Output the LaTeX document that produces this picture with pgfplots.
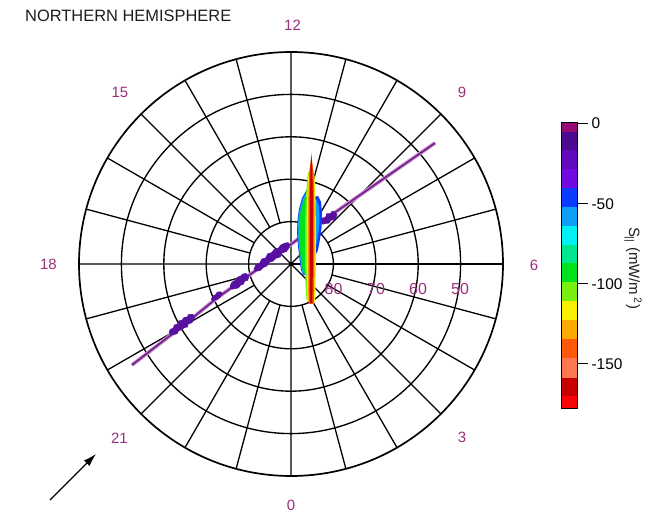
\documentclass[border=0pt]{standalone}
\usepackage{pgfplots}
\pgfplotsset{compat=1.18}
\usepgfplotslibrary{polar}
\usetikzlibrary{arrows.meta}
\usepackage{fontspec}
\setmainfont{Liberation Sans}

\definecolor{hourlab}{RGB}{155,45,125}
\definecolor{track}{RGB}{118,36,140}
\definecolor{trackhalo}{RGB}{205,150,215}
\definecolor{blob}{RGB}{88,16,160}
% discrete S_parallel palette, 0 (top) to -177.5 (bottom)
\definecolor{cA}{RGB}{150,10,120}
\definecolor{cB}{RGB}{75,10,145}
\definecolor{cC}{RGB}{95,10,190}
\definecolor{cD}{RGB}{112,10,225}
\definecolor{cE}{RGB}{10,60,255}
\definecolor{cF}{RGB}{15,160,245}
\definecolor{cG}{RGB}{0,240,245}
\definecolor{cH}{RGB}{0,230,140}
\definecolor{cI}{RGB}{0,225,30}
\definecolor{cJ}{RGB}{120,240,15}
\definecolor{cK}{RGB}{248,240,0}
\definecolor{cL}{RGB}{255,168,0}
\definecolor{cM}{RGB}{255,88,8}
\definecolor{cN}{RGB}{255,120,80}
\definecolor{cO}{RGB}{200,0,0}
\definecolor{cP}{RGB}{250,5,5}

\begin{document}
\begin{tikzpicture}
\useasboundingbox (0,0) rectangle (666bp,512bp);

% MLT / magnetic latitude dial (radius = 90 - latitude)
\begin{polaraxis}[
  at={(291bp,248bp)}, anchor=center,
  scale only axis, width=424bp, height=424bp,
  ymin=0, ymax=50,
  xtick={0,45,...,315}, ytick={10,20,30,40},
  xticklabels={}, yticklabels={},
  grid=major,
  major grid style={black,line width=1.35bp},
  axis line style={black,line width=1.7bp},
  major tick length=0pt,
  clip=false]
\pgfplotsinvokeforeach{15,30,60,75,105,120,150,165,195,210,240,255,285,300,330,345}{
  \addplot[black,line width=1.3bp] coordinates {(#1,10) (#1,50)};
}
\end{polaraxis}

% satellite track and Poynting flux, in dial units (1 unit = 1bp, centre at 0,0)
\begin{axis}[
  at={(291bp,248bp)}, anchor=center,
  scale only axis, width=424bp, height=424bp,
  xmin=-212, xmax=212, ymin=-212, ymax=212,
  axis lines=none, clip=false]

% track
\addplot[trackhalo,line width=3.8bp] coordinates {(-159,-101) (-111,-64) (-74,-34) (-36,-7) (-1,19) (36,46) (144,121)};
\addplot[track,line width=1.8bp] coordinates {(-159,-101) (-111,-64) (-74,-34) (-36,-7) (-1,19) (36,46) (144,121)};

% small downward flux along the dusk/night pass
\addplot[fill=blob,draw=blob,line width=0.6bp] coordinates {
 (-121.9,-68.8) (-120.8,-65.4) (-117.8,-64.4) (-116.6,-61.0) (-113.4,-60.3) (-112.2,-56.9)
 (-108.9,-56.3) (-107.2,-53.6) (-103.9,-53.0) (-102.1,-50.4) (-98.2,-50.5)
 (-96.4,-52.9) (-97.5,-56.3) (-99.3,-58.9) (-102.6,-59.6) (-103.7,-63.0) (-107.0,-63.6)
 (-109.1,-65.8) (-112.4,-66.5) (-113.8,-69.5) (-116.8,-70.5) (-120.1,-71.2)} -- cycle;
\addplot[fill=blob,draw=blob,line width=0.6bp] coordinates {
 (-79.6,-35.2) (-78.2,-32.2) (-75.5,-30.8) (-73.7,-28.1) (-70.1,-27.9)
 (-68.9,-29.5) (-70.4,-32.5) (-72.4,-34.7) (-75.4,-35.8) (-78.4,-36.8)} -- cycle;
\addplot[fill=blob,draw=blob,line width=0.6bp] coordinates {
 (-60.9,-22.8) (-59.8,-19.4) (-57.7,-17.2) (-54.7,-16.1) (-53.3,-13.1) (-50.3,-12.1)
 (-48.2,-9.9) (-44.6,-9.6) (-42.2,-12.8) (-43.3,-16.2) (-46.3,-17.2) (-47.8,-20.2)
 (-50.8,-21.3) (-52.5,-23.9) (-55.8,-24.5) (-59.1,-25.2)} -- cycle;
\addplot[fill=blob,draw=blob,line width=0.6bp] coordinates {
 (-36.9,-4.8) (-35.0,-0.8) (-31.2,0.9) (-29.3,4.9) (-25.2,6.1) (-23.3,10.2) (-19.2,11.4)
 (-16.6,14.6) (-12.6,15.9) (-10.0,19.1) (-6.2,20.8) (-2.9,21.4)
 (-1.1,19.0) (-2.3,15.6) (-4.8,12.4) (-8.9,11.2) (-10.8,7.1) (-14.9,5.9) (-17.8,3.0)
 (-21.8,1.8) (-24.1,-1.8) (-27.9,-3.5) (-30.7,-6.3) (-35.1,-7.2)} -- cycle;
\addplot[fill=blob,draw=blob,line width=0.6bp] coordinates {
 (30.2,42.2) (31.3,46.0) (34.6,46.4) (35.7,50.2) (39.3,50.2) (41.2,52.7) (44.3,51.8)
 (46.0,49.3) (45.1,46.9) (43.5,44.0) (39.9,44.0) (38.2,41.0) (34.9,40.6) (31.8,39.8)} -- cycle;

% intense flux near noon
\addplot[fill=cE,draw=none] coordinates {(16,75) (11,66) (8,55) (6.5,44) (6,32) (7,18) (8.5,5) (10,-6) (12,-11) (18,-11) (18,75)} -- cycle;
\addplot[fill=cF,draw=none] coordinates {(16.3,74) (11.6,65) (8.6,54) (7,43) (6.8,31) (7.8,17) (9.3,4) (10.8,-7) (12.5,-10.5) (18,-10.5) (18,74)} -- cycle;
\addplot[fill=cI,draw=none] coordinates {(16.7,73) (12.5,63) (9.5,52) (8,40) (7.8,28) (8.8,15) (10.3,3) (11.8,-7) (13,-9.5) (18,-9.5)} -- cycle;
\addplot[fill=cE,draw=none] coordinates {(23,67) (27,68) (30,62) (31,50) (30.5,36) (29,25) (27,14) (25,10) (23,10)} -- cycle;
\addplot[fill=cF,draw=none] coordinates {(23,64) (26,64) (28,57) (28.5,45) (27.5,32) (26,22) (24,16) (23,16)} -- cycle;
\addplot[fill=cJ,draw=none] coordinates {(17,92) (15,70) (14,40) (14,10) (14.5,-20) (15.5,-36) (18,-36) (18,92)} -- cycle;
\addplot[fill=cK,draw=none] coordinates {(20.3,104) (23.5,88) (24.5,65) (25,30) (24.8,-10) (24,-38) (16.5,-38) (15.8,-10) (15.8,30) (16.2,65) (17.3,88)} -- cycle;
\addplot[fill=cM,draw=none] coordinates {(20.3,108) (22.5,92) (23.2,68) (23.5,30) (23.3,-10) (22.8,-40) (17.6,-40) (17.3,-10) (17.3,30) (17.5,68) (18.3,92)} -- cycle;
\addplot[fill=cO,draw=none] coordinates {(20.3,111) (21.3,95) (21.8,70) (22,30) (21.8,-10) (21.3,-39) (19,-39) (18.8,-10) (18.8,30) (19,70) (19.4,95)} -- cycle;

% view direction
\addplot[black,line width=1.2bp,-{Latex[length=13bp,width=8bp]}] coordinates {(-241,-236) (-195,-190)};

% MLT labels
\begin{scope}[every node/.style={text=hourlab,font=\fontsize{15}{16}\selectfont}]
\node at (axis cs:1.5,238.5) {12};
\node at (axis cs:-171,171.5) {15};
\node at (axis cs:171,171.5) {9};
\node at (axis cs:-242.5,-0.5) {18};
\node at (axis cs:243,-1) {6};
\node at (axis cs:-171.5,-174) {21};
\node at (axis cs:171,-173) {3};
\node at (axis cs:0,-241) {0};
\end{scope}
% latitude labels
\begin{scope}[every node/.style={text=hourlab,font=\fontsize{16}{17}\selectfont}]
\node at (axis cs:42.5,-25) {80};
\node at (axis cs:85,-25) {70};
\node at (axis cs:127,-25) {60};
\node at (axis cs:169,-25) {50};
\end{scope}

\node[anchor=base west,inner sep=0pt,text={rgb,255:red,30;green,30;blue,30},font=\fontsize{16.5}{18}\selectfont] at (axis cs:-266,242) {NORTHERN HEMISPHERE};
\end{axis}

% colour scale
\begin{axis}[
  at={(561bp,104bp)}, anchor=south west,
  scale only axis, width=16bp, height=286bp,
  xmin=0, xmax=1, ymin=-177.5, ymax=1,
  xtick=\empty, ytick={0,-50,-100,-150},
  ytick pos=right, yticklabel pos=right,
  tick align=outside, major tick length=11bp,
  tick style={black,line width=1bp},
  axis line style={black,line width=0.8bp},
  yticklabel style={font=\fontsize{15.5}{16}\selectfont},
  /pgf/number format/assume math mode=true,
  axis on top]
\addplot[fill=cA,draw=none] coordinates {(0,1) (1,1) (1,-5) (0,-5)} -- cycle;
\addplot[fill=cB,draw=none] coordinates {(0,-5) (1,-5) (1,-16.5) (0,-16.5)} -- cycle;
\addplot[fill=cC,draw=none] coordinates {(0,-16.5) (1,-16.5) (1,-28.5) (0,-28.5)} -- cycle;
\addplot[fill=cD,draw=none] coordinates {(0,-28.5) (1,-28.5) (1,-40) (0,-40)} -- cycle;
\addplot[fill=cE,draw=none] coordinates {(0,-40) (1,-40) (1,-52) (0,-52)} -- cycle;
\addplot[fill=cF,draw=none] coordinates {(0,-52) (1,-52) (1,-64) (0,-64)} -- cycle;
\addplot[fill=cG,draw=none] coordinates {(0,-64) (1,-64) (1,-75.5) (0,-75.5)} -- cycle;
\addplot[fill=cH,draw=none] coordinates {(0,-75.5) (1,-75.5) (1,-87) (0,-87)} -- cycle;
\addplot[fill=cI,draw=none] coordinates {(0,-87) (1,-87) (1,-99) (0,-99)} -- cycle;
\addplot[fill=cJ,draw=none] coordinates {(0,-99) (1,-99) (1,-111) (0,-111)} -- cycle;
\addplot[fill=cK,draw=none] coordinates {(0,-111) (1,-111) (1,-122.5) (0,-122.5)} -- cycle;
\addplot[fill=cL,draw=none] coordinates {(0,-122.5) (1,-122.5) (1,-134.5) (0,-134.5)} -- cycle;
\addplot[fill=cM,draw=none] coordinates {(0,-134.5) (1,-134.5) (1,-146.5) (0,-146.5)} -- cycle;
\addplot[fill=cN,draw=none] coordinates {(0,-146.5) (1,-146.5) (1,-158.5) (0,-158.5)} -- cycle;
\addplot[fill=cO,draw=none] coordinates {(0,-158.5) (1,-158.5) (1,-170) (0,-170)} -- cycle;
\addplot[fill=cP,draw=none] coordinates {(0,-170) (1,-170) (1,-177.5) (0,-177.5)} -- cycle;
\end{axis}

\node[rotate=-90,font=\fontsize{15}{16}\selectfont,text={rgb,255:red,30;green,30;blue,30}] at (633bp,244bp) {S\textsubscript{||} (mW/m\,\textsuperscript{2})};
\end{tikzpicture}
\end{document}
